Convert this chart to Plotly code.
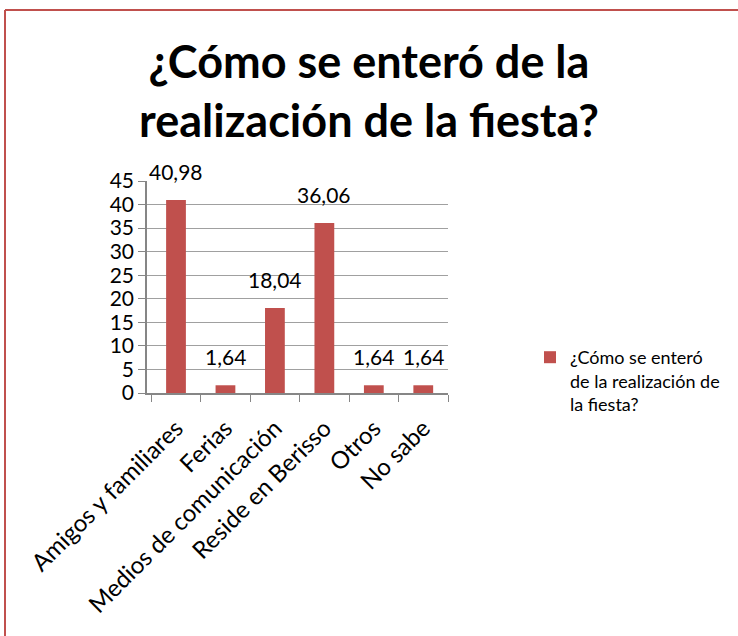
import plotly.graph_objects as go

categories = ["Amigos y familiares", "Ferias", "Medios de comunicación",
              "Reside en Berisso", "Otros", "No sabe"]
values = [40.98, 1.64, 18.04, 36.06, 1.64, 1.64]
series_name = "¿Cómo se enteró<br>de la realización de<br>la fiesta?"
title_text = "¿Cómo se enteró de la<br>realización de la fiesta?"
y_ticks = [0, 5, 10, 15, 20, 25, 30, 35, 40, 45]

W, H = 738, 636
ML, MR, MT, MB = 147, 290, 181, 243
pw = W - ML - MR
ph = H - MT - MB

FONT = "Lato, Carlito, Calibri, sans-serif"
RED = "#C0504D"

fig = go.Figure()
fig.add_trace(go.Bar(
    x=categories, y=values, name=series_name,
    marker=dict(color=RED, line=dict(width=0)),
    showlegend=True,
))

for c, v in zip(categories, values):
    fig.add_annotation(x=c, y=v, text=f"{v:.2f}".replace(".", ","),
                       showarrow=False, yanchor="bottom", yshift=14,
                       font=dict(family=FONT, size=21, color="black"))

def px_x(p):
    return (p - ML) / pw

def px_y(p):
    return (H - MB - p) / ph

# outer frame (top and left edges visible)
fig.add_shape(type="line", xref="paper", yref="paper",
              x0=px_x(5), x1=px_x(W + 5), y0=px_y(10), y1=px_y(10),
              line=dict(color=RED, width=2))
fig.add_shape(type="line", xref="paper", yref="paper",
              x0=px_x(5), x1=px_x(5), y0=px_y(10), y1=px_y(H + 5),
              line=dict(color=RED, width=2))

fig.update_layout(
    width=W, height=H,
    margin=dict(l=ML, r=MR, t=MT, b=MB, autoexpand=False),
    paper_bgcolor="white", plot_bgcolor="white",
    separators=",.",
    bargap=0.6,
    title=dict(text=f"<b>{title_text}</b>", x=0.5, xanchor="center",
               y=1 - 78 / H, yanchor="top",
               font=dict(family=FONT, size=45, color="black")),
    font=dict(family=FONT, color="black"),
    xaxis=dict(type="category", tickangle=-45, ticks="outside",
               tickson="boundaries", ticklen=7, tickcolor="#868686",
               showline=True, linecolor="#868686", linewidth=1.5,
               tickfont=dict(family=FONT, size=24, color="black"),
               ticklabelstandoff=10,
               showgrid=False, automargin=False),
    yaxis=dict(range=[0, 45], tickvals=y_ticks, ticks="outside", ticklen=7,
               tickcolor="#868686", showline=True, linecolor="#868686",
               linewidth=1.5, showgrid=True, gridcolor="#A0A0A0", gridwidth=1,
               tickfont=dict(family=FONT, size=21, color="black"),
               zeroline=False, automargin=False),
    legend=dict(x=px_x(530), y=px_y(339), xanchor="left", yanchor="top",
                valign="top", font=dict(family=FONT, size=18, color="black"),
                bgcolor="rgba(0,0,0,0)", tracegroupgap=0, itemwidth=30),
)

fig.write_html("out.html", config={"displayModeBar": False},
               post_script="document.body.style.margin='0';document.body.style.overflow='hidden';")
